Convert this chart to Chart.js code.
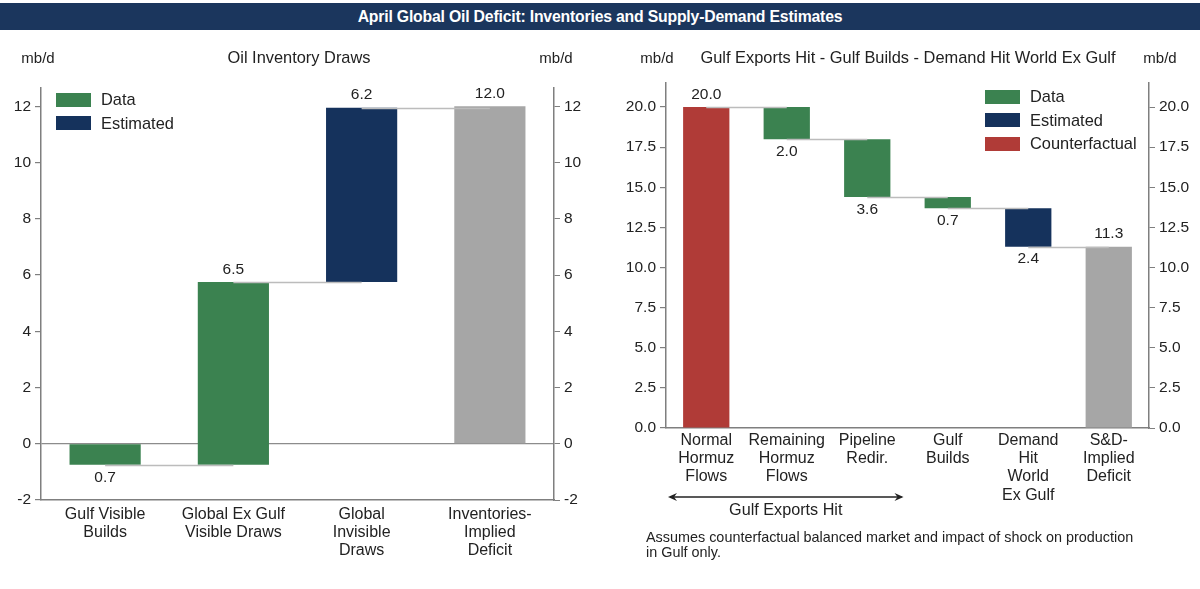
<!DOCTYPE html>
<html lang="en">
<head>
    <meta charset="UTF-8">
    <title>April Global Oil Deficit</title>
    <script src="https://cdn.jsdelivr.net/npm/chart.js"></script>
    <style>
        body { margin: 0; background: #fff; font-family: "Liberation Sans", Arial, sans-serif; color: #222; }
        .page { position: relative; width: 1200px; height: 589px; overflow: hidden; }
        canvas { position: absolute; top: 0; }
        .banner { position: absolute; left: 0; top: 3px; width: 1200px; height: 27px; background: #1b365d;
                  color: #fff; font: bold 15.8px "Liberation Sans", Arial, sans-serif;
                  text-align: center; line-height: 27px; letter-spacing: -0.2px; }
        .txt { position: absolute; font-size: 16.4px; white-space: nowrap; transform: translate(-50%, -50%); }
        .unit { font-size: 15px; }
        .legend { position: absolute; font-size: 16.4px; }
        .legend div { height: 23.5px; display: flex; align-items: center; }
        .legend span { display: inline-block; width: 35px; height: 14px; margin-right: 10px; }
        .note { position: absolute; left: 646px; top: 530px; font-size: 14.4px; line-height: 15px; }
    </style>
</head>
<body>
<div class="page">
    <canvas id="leftChart" width="600" height="589" style="left:0"></canvas>
    <canvas id="rightChart" width="600" height="589" style="left:600px"></canvas>

    <div class="banner">April Global Oil Deficit: Inventories and Supply-Demand Estimates</div>

    <div class="txt unit" style="left:38px; top:57px">mb/d</div>
    <div class="txt" style="left:299px; top:57px">Oil Inventory Draws</div>
    <div class="txt unit" style="left:556px; top:57px">mb/d</div>

    <div class="txt unit" style="left:657px; top:57px">mb/d</div>
    <div class="txt" style="left:908px; top:57px">Gulf Exports Hit - Gulf Builds - Demand Hit World Ex Gulf</div>
    <div class="txt unit" style="left:1160px; top:57px">mb/d</div>

    <div class="legend" id="leftLegend" style="left:56px; top:88px"></div>
    <div class="legend" id="rightLegend" style="left:985px; top:85px"></div>

    <div class="note">Assumes counterfactual balanced market and impact of shock on production<br>in Gulf only.</div>
</div>

<script>
// ---- left panel: Oil Inventory Draws ----
const leftCategories = [['Gulf Visible', 'Builds'], ['Global Ex Gulf', 'Visible Draws'], ['Global', 'Invisible', 'Draws'], ['Inventories-', 'Implied', 'Deficit']];
const leftSteps = [-0.75, 6.5, 6.2];
const leftTotal = 12.0;
const leftKinds = ['Data', 'Data', 'Estimated', 'Total'];
const leftValueLabels = ['0.7', '6.5', '6.2', '12.0'];
const leftTicks = [-2, 0, 2, 4, 6, 8, 10, 12];

// ---- right panel: Gulf Exports Hit - Gulf Builds - Demand Hit ----
const rightCategories = [['Normal', 'Hormuz', 'Flows'], ['Remaining', 'Hormuz', 'Flows'], ['Pipeline', 'Redir.'], ['Gulf', 'Builds'], ['Demand', 'Hit', 'World', 'Ex Gulf'], ['S&D-', 'Implied', 'Deficit']];
const rightStart = 20.0;
const rightSteps = [-2.0, -3.6, -0.7, -2.4];
const rightTotal = 11.3;
const rightKinds = ['Counterfactual', 'Data', 'Data', 'Data', 'Estimated', 'Total'];
const rightValueLabels = ['20.0', '2.0', '3.6', '0.7', '2.4', '11.3'];
const rightTicks = [0, 2.5, 5, 7.5, 10, 12.5, 15, 17.5, 20];

const legendOrder = ['Data', 'Estimated', 'Counterfactual'];
const colors = { Data: '#3b8250', Estimated: '#15325c', Counterfactual: '#b03b37', Total: '#a6a6a6' };
const FONT = '"Liberation Sans", Arial, sans-serif';

// turn start + steps + total into floating bars [lo, hi]
function buildBars(start, steps, total) {
    const bars = [];
    let level = 0;
    if (start !== null) { bars.push([0, start]); level = start; }
    steps.forEach(s => { bars.push([level, level + s]); level += s; });
    bars.push([0, total]);
    return bars;
}

function buildDatasets(bars, kinds, barPct) {
    const names = [...new Set(kinds)];
    return names.map(name => ({
        label: name,
        data: bars.map((b, i) => kinds[i] === name ? b : null),
        backgroundColor: colors[name],
        borderWidth: 0,
        grouped: false,
        barPercentage: barPct,
        categoryPercentage: 1
    }));
}

function makeLegend(el, kinds) {
    legendOrder.filter(k => kinds.includes(k)).forEach(k => {
        const row = document.createElement('div');
        row.innerHTML = '<span style="background:' + colors[k] + '"></span>' + k;
        el.appendChild(row);
    });
}

const waterfall = {
    id: 'waterfall',
    afterDatasetsDraw(chart, args, opts) {
        const { ctx } = chart;
        const x = chart.scales.x, y = chart.scales.y;
        const bars = opts.bars;
        ctx.save();
        // connectors between consecutive bars
        ctx.strokeStyle = '#bcbcbc';
        ctx.lineWidth = 1.5;
        for (let i = 0; i < bars.length - 1; i++) {
            const py = Math.round(y.getPixelForValue(bars[i][1])) + 0.5;
            ctx.beginPath();
            ctx.moveTo(x.getPixelForValue(i), py);
            ctx.lineTo(x.getPixelForValue(i + 1), py);
            ctx.stroke();
        }
        // value labels: above rising bars, below falling ones
        ctx.fillStyle = '#222';
        ctx.font = '15.5px ' + FONT;
        ctx.textAlign = 'center';
        ctx.textBaseline = 'middle';
        bars.forEach((b, i) => {
            const up = b[1] >= b[0];
            const py = y.getPixelForValue(b[1]) + (up ? -12.5 : 12.5);
            ctx.fillText(opts.labels[i], x.getPixelForValue(i), py);
        });
        ctx.restore();
    }
};

const exportsArrow = {
    id: 'exportsArrow',
    afterDraw(chart, args, opts) {
        if (!opts.show) return;
        const { ctx } = chart;
        const x = chart.scales.x;
        const half = (x.getPixelForValue(1) - x.getPixelForValue(0)) / 2;
        const x0 = x.getPixelForValue(0) - half + 2, x1 = x.getPixelForValue(2) + half - 4;
        const yy = 497;
        ctx.save();
        ctx.strokeStyle = '#222'; ctx.fillStyle = '#222'; ctx.lineWidth = 1.5;
        ctx.beginPath(); ctx.moveTo(x0 + 2, yy); ctx.lineTo(x1 - 2, yy); ctx.stroke();
        [[x0, 1], [x1, -1]].forEach(([px, d]) => {
            ctx.beginPath();
            ctx.moveTo(px, yy);
            ctx.lineTo(px + 9 * d, yy - 4);
            ctx.lineTo(px + 6 * d, yy);
            ctx.lineTo(px + 9 * d, yy + 4);
            ctx.closePath(); ctx.fill();
        });
        ctx.font = '16.2px ' + FONT;
        ctx.textAlign = 'center'; ctx.textBaseline = 'middle';
        ctx.fillText('Gulf Exports Hit', (x0 + x1) / 2, 511);
        ctx.restore();
    }
};

function yAxis(position, width, min, max, ticks, fmt, zeroLine) {
    return {
        type: 'linear',
        position: position,
        min: min, max: max,
        afterFit: s => { s.width = width; },
        afterBuildTicks: s => { s.ticks = ticks.map(v => ({ value: v })); },
        border: { display: true, color: '#7f7f7f', width: 1.5 },
        grid: {
            drawOnChartArea: zeroLine,
            color: ctx => (ctx.tick && ctx.tick.value === 0) ? '#8c8c8c' : 'rgba(0,0,0,0)',
            lineWidth: 1.2,
            tickColor: '#7f7f7f',
            tickLength: 6
        },
        ticks: { color: '#222', font: { family: FONT, size: 15.5 }, padding: 4, callback: v => fmt(v) }
    };
}

function makeChart(id, cfg) {
    const bars = cfg.bars;
    const right = yAxis('right', cfg.rightW, cfg.min, cfg.max, cfg.ticks, cfg.fmt, false);
    right.grid = { drawOnChartArea: false, tickColor: '#7f7f7f', tickLength: 6 };
    return new Chart(document.getElementById(id), {
        type: 'bar',
        data: { labels: cfg.categories, datasets: buildDatasets(bars, cfg.kinds, cfg.barPct) },
        options: {
            responsive: false,
            animation: false,
            layout: { padding: { top: cfg.top, left: 0, right: 0, bottom: 0 } },
            plugins: {
                legend: { display: false },
                tooltip: { enabled: false },
                waterfall: { bars: bars, labels: cfg.valueLabels },
                exportsArrow: { show: cfg.arrow }
            },
            scales: {
                x: {
                    afterFit: s => { s.height = cfg.xHeight; },
                    grid: { display: false, drawTicks: false },
                    border: { display: true, color: '#7f7f7f', width: 1.5 },
                    ticks: { color: '#222', font: { family: FONT, size: 16, lineHeight: 1.15 }, padding: cfg.xPad, maxRotation: 0, autoSkip: false }
                },
                y: yAxis('left', cfg.leftW, cfg.min, cfg.max, cfg.ticks, cfg.fmt, cfg.zeroLine),
                y2: right
            }
        },
        plugins: [waterfall, exportsArrow]
    });
}

makeLegend(document.getElementById('leftLegend'), leftKinds);
makeLegend(document.getElementById('rightLegend'), rightKinds);

makeChart('leftChart', {
    categories: leftCategories,
    bars: buildBars(null, leftSteps, leftTotal),
    kinds: leftKinds,
    valueLabels: leftValueLabels,
    barPct: 0.555,
    top: 88, xHeight: 89, leftW: 41, rightW: 46, xPad: 5,
    min: -2, max: 12.65, ticks: leftTicks,
    fmt: v => String(v), zeroLine: true, arrow: false
});

makeChart('rightChart', {
    categories: rightCategories,
    bars: buildBars(rightStart, rightSteps, rightTotal),
    kinds: rightKinds,
    valueLabels: rightValueLabels,
    barPct: 0.575,
    top: 83, xHeight: 161, leftW: 66, rightW: 51, xPad: 3,
    min: 0, max: 21.5, ticks: rightTicks,
    fmt: v => v.toFixed(1), zeroLine: false, arrow: true
});
</script>
</body>
</html>
